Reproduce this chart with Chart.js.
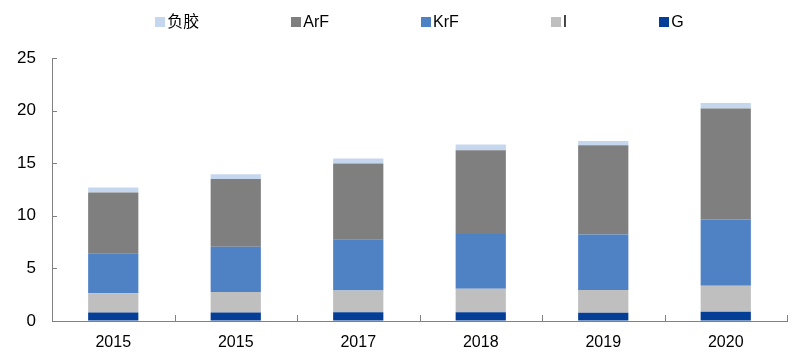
<!DOCTYPE html>
<html>
<head>
<meta charset="utf-8">
<script src="https://cdn.jsdelivr.net/npm/chart.js@4"></script>
<style>
    html, body { margin: 0; padding: 0; background: #fff; }
    #wrap { width: 800px; height: 360px; }
</style>
</head>
<body>
<div id="wrap"><canvas id="chart" width="800" height="360"></canvas></div>
<script>
const years = ['2015', '2015', '2017', '2018', '2019', '2020'];
const gValues = [0.80, 0.80, 0.83, 0.83, 0.79, 0.88];
const iValues = [1.83, 1.95, 2.08, 2.24, 2.15, 2.47];
const krfValues = [3.80, 4.31, 4.85, 5.19, 5.29, 6.31];
const arfValues = [5.79, 6.44, 7.21, 7.98, 8.48, 10.54];
const negValues = [0.48, 0.45, 0.48, 0.54, 0.41, 0.53];
const yTicks = [0, 5, 10, 15, 20, 25];

const seriesNames = ['G', 'I', 'KrF', 'ArF', '负胶'];
const seriesData = [gValues, iValues, krfValues, arfValues, negValues];
const seriesColors = ['#053e97', '#bfbfbf', '#4f81c5', '#7f7f7f', '#c5d7ee'];

const axisColor = '#808080';
const fontFamily = '"Liberation Sans", Arial, sans-serif';

// legend drawn across the top, reverse of stacking order
const topLegend = {
    id: 'topLegend',
    afterDraw(chart) {
        const ctx = chart.ctx;
        const area = chart.chartArea;
        const items = chart.data.datasets.slice().reverse();
        const box = 10, gap = 2, spacing = 92, y = 22;
        ctx.save();
        ctx.font = '16px "Liberation Sans", "Noto Sans CJK SC", sans-serif';
        const widths = items.map(d => box + gap + ctx.measureText(d.label).width);
        const total = widths.reduce((a, b) => a + b, 0) + spacing * (items.length - 1);
        let x = (area.left + area.right) / 2 - total / 2;
        ctx.textBaseline = 'middle';
        items.forEach((d, i) => {
            ctx.fillStyle = d.backgroundColor;
            ctx.fillRect(Math.round(x), y - 5, box, box);
            ctx.fillStyle = '#000';
            ctx.fillText(d.label, x + box + gap, y + 1);
            x += widths[i] + spacing;
        });
        ctx.restore();
    }
};

// small inward tick marks on both axes
const tickMarks = {
    id: 'tickMarks',
    afterDatasetsDraw(chart) {
        const { ctx, scales: { x, y } } = chart;
        const step = x.getPixelForValue(1) - x.getPixelForValue(0);
        ctx.save();
        ctx.strokeStyle = axisColor;
        ctx.lineWidth = 1;
        ctx.beginPath();
        yTicks.forEach(v => {
            const py = Math.round(y.getPixelForValue(v)) + 0.5;
            ctx.moveTo(x.left, py);
            ctx.lineTo(x.left + 5, py);
        });
        years.forEach((_, i) => {
            const px = Math.round(x.getPixelForValue(i) + step / 2) + 0.5;
            ctx.moveTo(px, y.bottom);
            ctx.lineTo(px, y.bottom - 6);
        });
        ctx.stroke();
        ctx.restore();
    }
};

const ctx = document.getElementById('chart').getContext('2d');
new Chart(ctx, {
    type: 'bar',
    data: {
        labels: years,
        datasets: seriesNames.map((name, i) => ({
            label: name,
            data: seriesData[i],
            backgroundColor: seriesColors[i],
            borderWidth: 0,
            categoryPercentage: 1,
            barPercentage: 0.41
        }))
    },
    options: {
        responsive: false,
        animation: false,
        devicePixelRatio: 1,
        layout: { padding: { left: 0, right: 13, top: 58, bottom: 0 } },
        plugins: {
            legend: { display: false },
            tooltip: { enabled: false }
        },
        scales: {
            x: {
                stacked: true,
                grid: { display: true, drawOnChartArea: false, drawTicks: false },
                border: { display: true, color: axisColor, width: 1 },
                ticks: { color: '#000', font: { family: fontFamily, size: 16 }, padding: 12 },
                afterFit: s => { s.height = 39; }
            },
            y: {
                stacked: true,
                min: 0,
                max: 25,
                grid: { display: true, drawOnChartArea: false, drawTicks: false },
                border: { display: true, color: axisColor, width: 1 },
                ticks: { stepSize: 5, color: '#000', font: { family: fontFamily, size: 17 }, padding: 16 },
                afterFit: s => { s.width = 52; }
            }
        }
    },
    plugins: [topLegend, tickMarks]
});
</script>
</body>
</html>
